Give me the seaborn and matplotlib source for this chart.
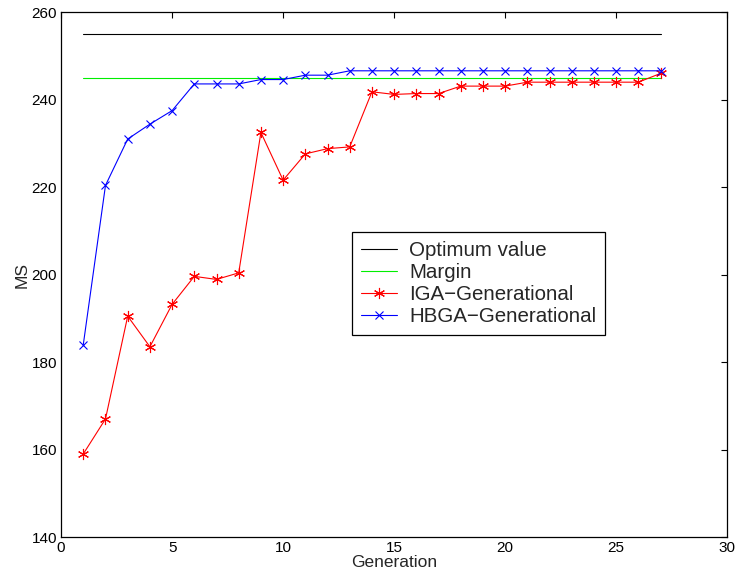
import matplotlib
matplotlib.use("Agg")
import matplotlib.pyplot as plt
import seaborn as sns
import numpy as np

generations = list(range(1, 28))
optimum = [255] * 27
margin = [245] * 27
iga = [159.0, 167.0, 190.5, 183.5, 193.2, 199.6, 198.9, 200.4, 232.5, 221.6,
       227.6, 228.8, 229.2, 241.8, 241.2, 241.4, 241.4, 243.1, 243.1, 243.1,
       244.0, 244.0, 244.0, 244.0, 244.0, 244.0, 246.0]
hbga = [184.0, 220.4, 231.0, 234.4, 237.5, 243.6, 243.6, 243.6, 244.6, 244.6,
        245.6, 245.6, 246.6, 246.6, 246.6, 246.6, 246.6, 246.6, 246.6, 246.6,
        246.6, 246.6, 246.6, 246.6, 246.6, 246.6, 246.6]
xticks = [0, 5, 10, 15, 20, 25, 30]
yticks = [140, 160, 180, 200, 220, 240, 260]

sns.set_style("white")
plt.rcParams['font.family'] = ['Liberation Sans', 'DejaVu Sans']

fig = plt.figure(figsize=(7.36, 5.81), dpi=100)
ax = fig.add_axes([0.083, 0.0757, 0.905, 0.9033])

sns.lineplot(x=generations, y=optimum, ax=ax, color='black', lw=0.8, label='Optimum value')
sns.lineplot(x=generations, y=margin, ax=ax, color='#00ee00', lw=0.8, label='Margin')
sns.lineplot(x=generations, y=iga, ax=ax, color='red', lw=0.8, marker=(6, 2, 0),
             markersize=8, markeredgewidth=0.8, markeredgecolor='red', label='IGA\u2212Generational')
sns.lineplot(x=generations, y=hbga, ax=ax, color='blue', lw=0.8, marker='x',
             markersize=5.5, markeredgewidth=0.8, markeredgecolor='blue', label='HBGA\u2212Generational')

ax.set_xlim(0, 30)
ax.set_ylim(140, 260)
ax.set_xticks(xticks)
ax.set_yticks(yticks)
ax.tick_params(direction='in', top=True, right=True, length=4, width=0.8,
               labelsize=11, colors='black', pad=3)
for s in ax.spines.values():
    s.set_visible(True)
    s.set_color('black')
    s.set_linewidth(0.9)
ax.set_xlabel('Generation', fontsize=12.5, labelpad=0)
ax.set_ylabel('MS', fontsize=12.5, labelpad=1)

leg = ax.legend(loc='upper left', bbox_to_anchor=(0.437, 0.581), fontsize=14.8,
                frameon=True, fancybox=False, edgecolor='black', framealpha=1,
                handlelength=1.75, handletextpad=0.6, labelspacing=0.15,
                borderpad=0.42, borderaxespad=0)
leg.get_frame().set_linewidth(0.9)

fig.savefig('out.png', dpi=100)
